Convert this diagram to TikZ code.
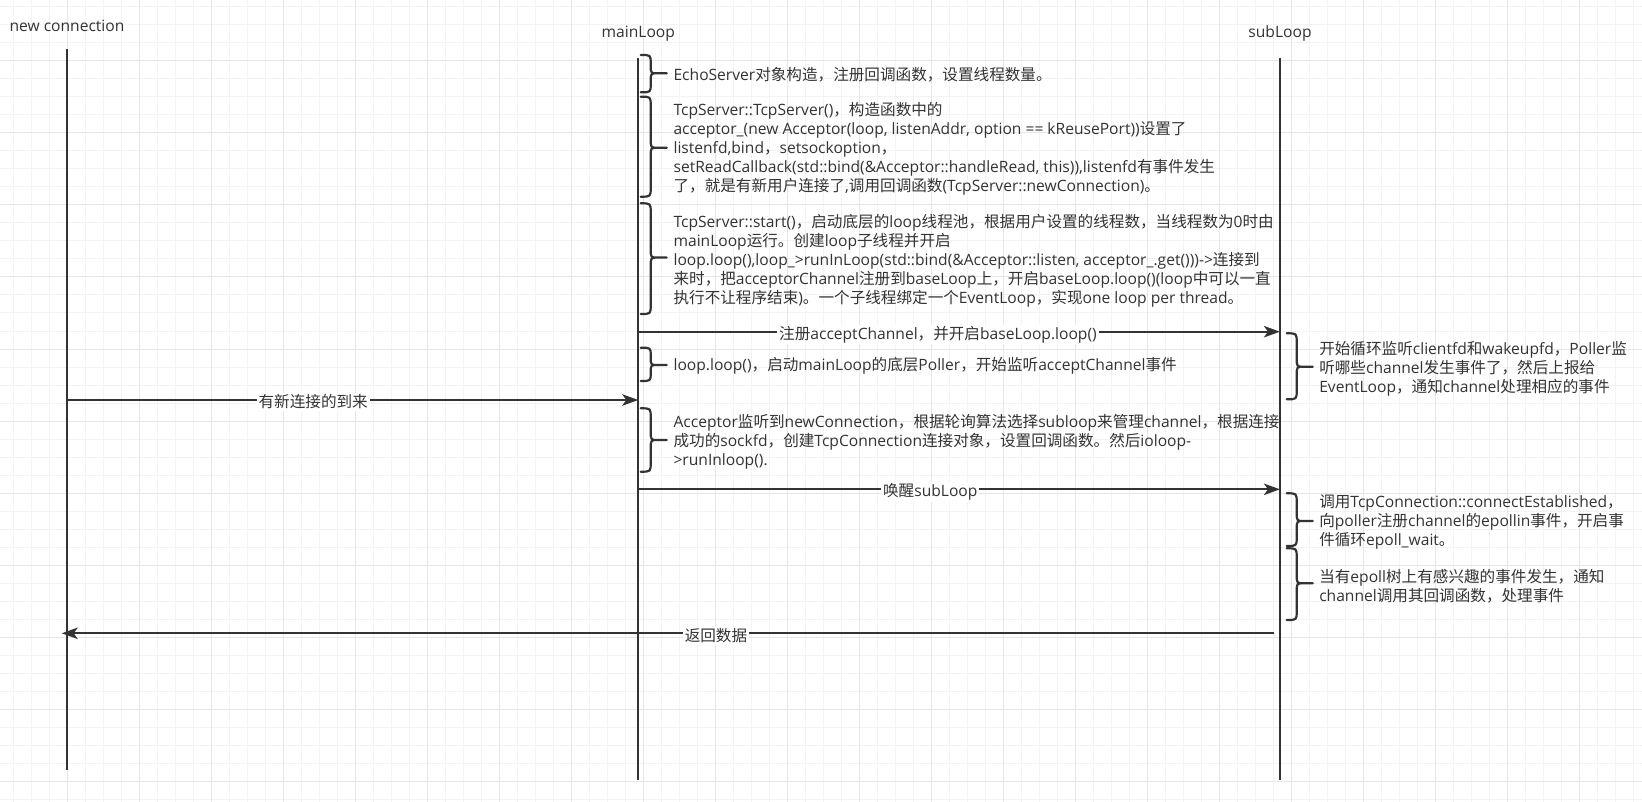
\documentclass[tikz,border=0pt]{standalone}
\usepackage{fontspec}
\setmainfont{Open Sans}
\newfontfamily\cjkfont{Noto Sans CJK SC}
\newfontfamily\latfont{Open Sans}
\usetikzlibrary{arrows.meta}
\XeTeXinterchartokenstate=1
\newXeTeXintercharclass\cjkclass
\makeatletter
\def\setcjkrange#1#2{\count@=#1\relax\loop\XeTeXcharclass\count@=\cjkclass\relax\ifnum\count@<#2\relax\advance\count@ by 1\relax\repeat}
\setcjkrange{"3000}{"303F}
\setcjkrange{"4E00}{"9FFF}
\setcjkrange{"FF00}{"FFEF}
\makeatother
\XeTeXinterchartoks 0 \cjkclass = {\cjkfont}
\XeTeXinterchartoks 4095 \cjkclass = {\cjkfont}
\XeTeXinterchartoks \cjkclass 0 = {\latfont}
\XeTeXinterchartoks \cjkclass 4095 = {\latfont}
\definecolor{ink}{HTML}{333333}
\definecolor{gridminor}{HTML}{F3F3F3}
\definecolor{gridmajor}{HTML}{E6E6E6}
\newcommand\fs{\fontsize{11.7pt}{14.25pt}\selectfont}
\newcommand\drawbrace[4]{%
  \pgfmathsetmacro\bxb{#1+10}\pgfmathsetmacro\bxm{#1+17}\pgfmathsetmacro\bxt{#1+26}%
  \pgfmathsetmacro\bRad{min(9,(#3-#2)/2.2)}%
  \draw[bracestyle] (#1,#2) .. controls (\bxb,#2) .. (\bxb,{#2+\bRad}) -- (\bxb,{#3-\bRad})
    .. controls (\bxb,#3) .. (\bxm,#3) -- (\bxt,#3)
    (\bxm,#3) .. controls (\bxb,#3) .. (\bxb,{#3+\bRad}) -- (\bxb,{#4-\bRad})
    .. controls (\bxb,#4) .. (#1,#4);}
\begin{document}
\begin{tikzpicture}[x=0.75pt,y=-0.75pt,
  lifeline/.style={draw=ink, line width=1.65pt},
  msg/.style={draw=ink, line width=1.65pt, -{Stealth[length=12pt,width=8.5pt,inset=3pt]}},
  bracestyle/.style={draw=ink, line width=1.65pt, line join=round, line cap=round},
  txt/.style={font=\fs, text=ink, align=left, anchor=west, inner sep=0pt},
  head/.style={font=\fs, text=ink, inner sep=0pt},
  lbl/.style={font=\fs, text=ink, fill=white, inner xsep=1.5pt, inner ysep=1pt},
  gmin/.style={draw=gridminor, line width=0.75pt},
  gmaj/.style={draw=gridmajor, line width=0.75pt}]
\useasboundingbox (0,0) rectangle (1642,802);
\fill[white] (0,0) rectangle (1642,802);
\begin{scope}
  \clip (0,0) rectangle (1642,802);
  \foreach \k in {0,...,91} \draw[gmin] ({13.7+18*\k},0) -- ({13.7+18*\k},802);
  \foreach \k in {0,...,44} \draw[gmin] (0,{7+18*\k}) -- (1642,{7+18*\k});
  \foreach \k in {0,...,23} \draw[gmaj] ({-4.3+72*\k},0) -- ({-4.3+72*\k},802);
  \foreach \k in {0,...,11} \draw[gmaj] (0,{-11+72*\k}) -- (1642,{-11+72*\k});
\end{scope}
% heads
\node[head] (hnc) at (67,26) {new connection};
\node[head] (hml) at (638.3,33.5) {mainLoop};
\node[head] (hsl) at (1280,33.5) {subLoop};
% lifelines
\coordinate (nct) at (67,49);     \coordinate (ncb) at (67,770);
\coordinate (mlt) at (638.3,57.6); \coordinate (mlb) at (638.3,780);
\coordinate (slt) at (1280,57.6);  \coordinate (slb) at (1280,780);
\draw[lifeline] (nct) -- (ncb);
\draw[lifeline] (mlt) -- (mlb);
\draw[lifeline] (slt) -- (slb);
% braces on mainLoop
\drawbrace{640.7}{55}{73.3}{92.3}
\drawbrace{640.7}{96.7}{147.7}{196.7}
\drawbrace{640.7}{203.3}{257.6}{314}
\drawbrace{640.7}{347.7}{365}{381}
\drawbrace{640.7}{408.3}{440}{471.7}
% braces on subLoop
\drawbrace{1286.7}{333.3}{366.7}{399.3}
\drawbrace{1286.7}{493.3}{521}{546}
\drawbrace{1286.7}{548.3}{583.3}{620}
% texts
\node[txt] (t1) at (673.3,74.3) {EchoServer对象构造，注册回调函数，设置线程数量。};
\node[txt] (t2) at (673.3,149.2) {TcpServer::TcpServer()，构造函数中的\\acceptor\_(new Acceptor(loop, listenAddr, option == kReusePort))设置了\\listenfd,bind，setsockoption，\\setReadCallback(std::bind(\&Acceptor::handleRead, this)),listenfd有事件发生\\了，就是有新用户连接了,调用回调函数(TcpServer::newConnection)。};
\node[txt] (t3) at (673.3,261.1) {TcpServer::start()，启动底层的loop线程池，根据用户设置的线程数，当线程数为0时由\\mainLoop运行。创建loop子线程并开启\\loop.loop(),loop\_>runInLoop(std::bind(\&Acceptor::listen, acceptor\_.get()))->连接到\\来时，把acceptorChannel注册到baseLoop上，开启baseLoop.loop()(loop中可以一直\\执行不让程序结束)。一个子线程绑定一个EventLoop，实现one loop per thread。};
\node[txt] (t4) at (673.3,366) {loop.loop()，启动mainLoop的底层Poller，开始监听acceptChannel事件};
\node[txt] (t5) at (673.3,441.7) {Acceptor监听到newConnection，根据轮询算法选择subloop来管理channel，根据连接\\成功的sockfd，创建TcpConnection连接对象，设置回调函数。然后ioloop-\\>runInloop().};
\node[txt] (ta) at (1319,368.7) {开始循环监听clientfd和wakeupfd，Poller监\\听哪些channel发生事件了，然后上报给\\EventLoop，通知channel处理相应的事件};
\node[txt] (tb) at (1319,521.7) {调用TcpConnection::connectEstablished，\\向poller注册channel的epollin事件，开启事\\件循环epoll\_wait。};
\node[txt] (tc) at (1319,585.9) {当有epoll树上有感兴趣的事件发生，通知\\channel调用其回调函数，处理事件};
% messages
\coordinate (a1s) at (638.3,331.7); \coordinate (a1e) at (1280,331.7);
\coordinate (a2s) at (67,400);      \coordinate (a2e) at (638.3,400);
\coordinate (a3s) at (638.3,489.3); \coordinate (a3e) at (1280,489.3);
\coordinate (a4s) at (1274.4,633.3); \coordinate (a4e) at (61.7,633.3);
\draw[msg] (a1s) -- node[lbl, pos=0.467, yshift=-2pt] (l1) {注册acceptChannel，并开启baseLoop.loop()} (a1e);
\draw[msg] (a2s) -- node[lbl, pos=0.431, yshift=-1.5pt] (l2) {有新连接的到来} (a2e);
\draw[msg] (a3s) -- node[lbl, pos=0.455, yshift=-2pt] (l3) {唤醒subLoop} (a3e);
\draw[msg] (a4s) -- node[lbl, pos=0.4605, yshift=-2pt] (l4) {返回数据} (a4e);
\end{tikzpicture}
\end{document}
